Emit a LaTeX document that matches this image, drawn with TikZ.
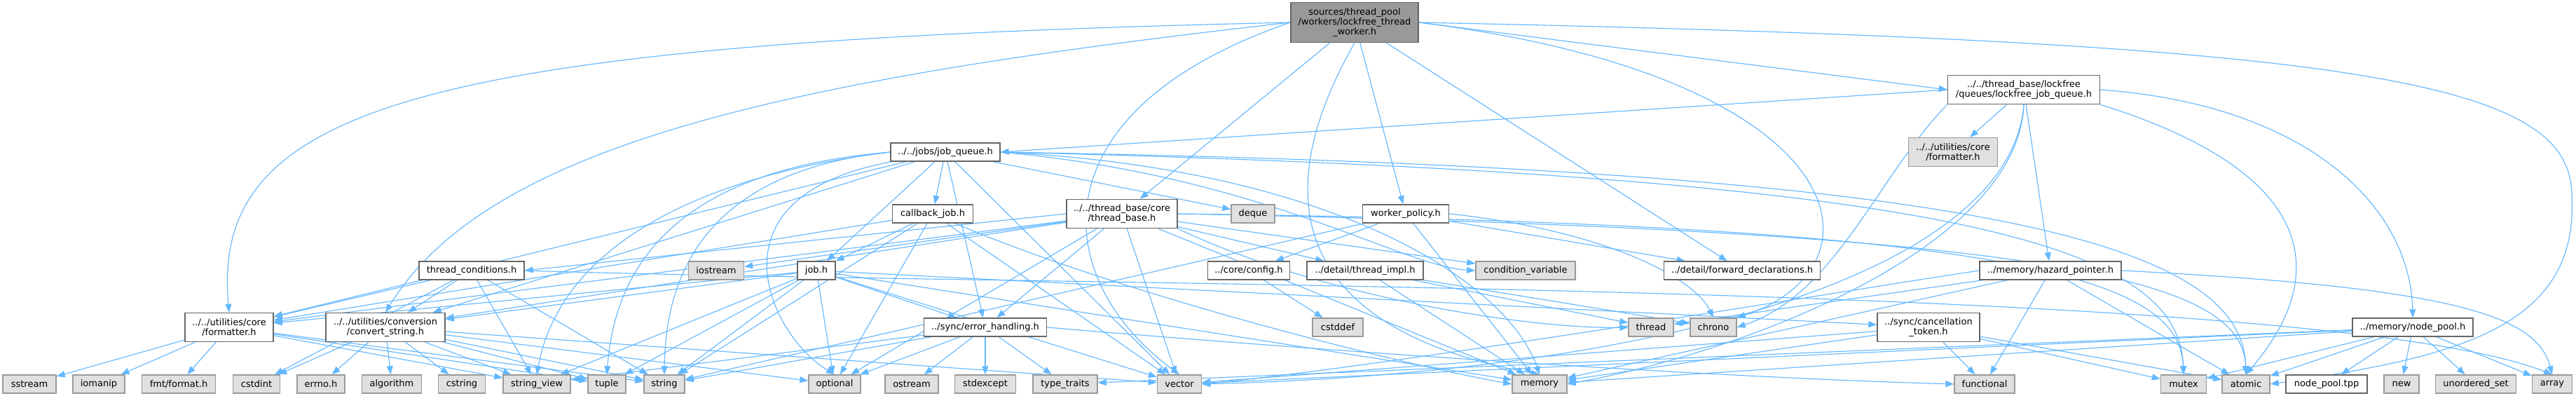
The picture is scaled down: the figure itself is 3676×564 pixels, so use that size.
\documentclass[tikz,border=0pt]{standalone}
\usepackage{fontspec}
\newfontfamily\dxfont{DejaVu Sans}
\usetikzlibrary{arrows.meta,backgrounds}

\definecolor{dxedge}{HTML}{63B8FF}
\definecolor{dxgreyfill}{HTML}{E0E0E0}
\definecolor{dxgreyline}{HTML}{999999}
\definecolor{dxline}{HTML}{666666}

\tikzset{
  hdr/.style={draw=dxline, fill=white, line width=0.4pt, inner sep=0pt,
    align=center, font=\dxfont\fontsize{3.7}{4}\selectfont},
  syshdr/.style={hdr, draw=dxgreyline, fill=dxgreyfill},
  roothdr/.style={hdr, fill=dxgreyline},
  oneline/.style={minimum height=2.6mm},
  twoline/.style={minimum height=4.1mm},
  bw/.style={minimum width=#1mm},
  dep/.style={draw=dxedge, line width=0.32pt,
    -{Triangle[length=1.2mm,width=0.9mm]}}
}

\begin{document}
\begin{tikzpicture}[x=0.1mm,y=-0.1mm]
\useasboundingbox (0,0) rectangle (3676,564);

% top rows
\node[roothdr, minimum height=5.7mm, bw=18.2] (worker) at (1933,32)
  {sources/thread\_pool\\/workers/lockfree\_thread\\\_worker.h};
\node[hdr, twoline, bw=21.7] (lfqueue) at (2888,128)
  {../../thread\_base/lockfree\\/queues/lockfree\_job\_queue.h};
\node[hdr, oneline, bw=15.6] (jobqueue) at (1349,217) {../../jobs/job\_queue.h};
\node[syshdr, twoline, bw=12.7] (fmtgrey) at (2787,217) {../../utilities/core\\/formatter.h};
\node[hdr, oneline, bw=11.5] (cbjob) at (1331,305) {callback\_job.h};
\node[hdr, twoline, bw=15.8] (tbase) at (1601,305) {../../thread\_base/core\\/thread\_base.h};
\node[syshdr, oneline, bw=6.2] (deque) at (1788,305) {deque};
\node[hdr, oneline, bw=12.3] (wpolicy) at (2006,305) {worker\_policy.h};

% middle row
\node[hdr, oneline, bw=15.0] (tcond) at (673,386) {thread\_conditions.h};
\node[syshdr, oneline, bw=7.9] (iostream) at (1022,386) {iostream};
\node[hdr, oneline, bw=5.4] (job) at (1165,386) {job.h};
\node[hdr, oneline, bw=11.7] (config) at (1782,386) {../core/config.h};
\node[hdr, oneline, bw=16.6] (timpl) at (1948,386) {../detail/thread\_impl.h};
\node[syshdr, oneline, bw=14.2] (condvar) at (2177,386) {condition\_variable};
\node[hdr, oneline, bw=22.3] (fwddecl) at (2486,386) {../detail/forward\_declarations.h};
\node[hdr, oneline, bw=20.2] (hazard) at (2926,386) {../memory/hazard\_pointer.h};

% lower row
\node[hdr, twoline, bw=12.6] (formatter) at (327,467) {../../utilities/core\\/formatter.h};
\node[hdr, twoline, bw=17.0] (convstr) at (550,467) {../../utilities/conversion\\/convert\_string.h};
\node[hdr, oneline, bw=17.5] (errhandle) at (1406,467) {../sync/error\_handling.h};
\node[syshdr, oneline, bw=7.2] (cstddef) at (1909,467) {cstddef};
\node[syshdr, oneline, bw=6.4] (thread) at (2356,467) {thread};
\node[syshdr, oneline, bw=6.6] (chrono) at (2445,467) {chrono};
\node[hdr, twoline, bw=14.6] (canceltok) at (2752,467) {../sync/cancellation\\\_token.h};
\node[hdr, oneline, bw=17.2] (nodepool) at (3443,467) {../memory/node\_pool.h};

% bottom row
\node[syshdr, oneline, bw=7.6] (sstream) at (42,548) {sstream};
\node[syshdr, oneline, bw=7.4] (iomanip) at (141,548) {iomanip};
\node[syshdr, oneline, bw=10.5] (fmtformat) at (255,548) {fmt/format.h};
\node[syshdr, oneline, bw=6.7] (cstdint) at (366,548) {cstdint};
\node[syshdr, oneline, bw=6.8] (errno) at (458,548) {errno.h};
\node[syshdr, oneline, bw=8.5] (algorithm) at (559,548) {algorithm};
\node[syshdr, oneline, bw=6.7] (cstring) at (659,548) {cstring};
\node[syshdr, oneline, bw=9.6] (strview) at (766,548) {string\_view};
\node[syshdr, oneline, bw=5.4] (tuple) at (866,548) {tuple};
\node[syshdr, oneline, bw=5.8] (string) at (948,548) {string};
\node[syshdr, oneline, bw=7.4] (optional) at (1191,548) {optional};
\node[syshdr, oneline, bw=7.6] (ostream) at (1301,548) {ostream};
\node[syshdr, oneline, bw=8.7] (stdexcept) at (1406,548) {stdexcept};
\node[syshdr, oneline, bw=9.2] (typetraits) at (1520,548) {type\_traits};
\node[syshdr, oneline, bw=6.3] (vector) at (1683,548) {vector};
\node[syshdr, oneline, bw=7.8] (memory) at (2197,548) {memory};
\node[syshdr, oneline, bw=8.6] (functional) at (2832,548) {functional};
\node[syshdr, oneline, bw=6.5] (mutex) at (3116,548) {mutex};
\node[syshdr, oneline, bw=6.8] (atomic) at (3205,548) {atomic};
\node[hdr, oneline, bw=11.6] (nodetpp) at (3320,548) {node\_pool.tpp};
\node[syshdr, oneline, bw=5.0] (new) at (3427,548) {new};
\node[syshdr, oneline, bw=11.5] (unordset) at (3533,548) {unordered\_set};
\node[syshdr, oneline, bw=5.7] (array) at (3642,548) {array};

\begin{pgfonlayer}{background}
\fill[white] (0,0) rectangle (3676,564);

% lockfree_thread_worker.h
\draw[dep] (worker.west) .. controls (600,60) and (300,150) .. (formatter.north);
\draw[dep] (worker.west) .. controls (1150,110) and (700,200) .. (convstr.north);
\draw[dep] (worker) -- (tbase);
\draw[dep] (worker) -- (wpolicy);
\draw[dep] (worker) -- (fwddecl);
\draw[dep] (worker.east) -- (lfqueue.west);
\draw[dep] (worker.west) .. controls (1470,160) and (1500,400) .. (vector.north);
\draw[dep] (worker.south) .. controls (1780,330) and (1900,480) .. (memory.north);
\draw[dep] (worker.east) .. controls (3400,60) and (3670,120) .. (3670,280)
  .. controls (3680,470) and (3500,510) .. (atomic.east);
\draw[dep] (worker.east) .. controls (2650,110) and (2700,380) .. (chrono.north east);

% lockfree_job_queue.h
\draw[dep] (lfqueue.west) -- (jobqueue.east);
\draw[dep] (lfqueue) -- (fmtgrey);
\draw[dep] (lfqueue.south west) .. controls (2680,250) and (2620,420) .. (chrono.east);
\draw[dep] (lfqueue) -- (hazard);
\draw[dep] (lfqueue.south east) .. controls (3320,250) and (3320,400) .. (atomic.north);
\draw[dep] (lfqueue.east) .. controls (3300,150) and (3440,300) .. (nodepool.north);
\draw[dep] (lfqueue.south) .. controls (2880,350) and (2500,500) .. (memory.east);
\draw[dep] (lfqueue.south) .. controls (2870,380) and (2400,530) .. (vector.east);

% hazard_pointer.h
\draw[dep] (hazard) -- (functional);
\draw[dep] (hazard) -- (atomic);
\draw[dep] (hazard.east) .. controls (3500,410) and (3620,450) .. (array.north);
\draw[dep] (hazard) -- (memory);
\draw[dep] (hazard.west) .. controls (2600,420) and (2000,520) .. (vector.east);
\draw[dep] (hazard) -- (thread);

% node_pool.h
\draw[dep] (nodepool) -- (mutex);
\draw[dep] (nodepool) -- (atomic);
\draw[dep] (nodepool) -- (nodetpp);
\draw[dep] (nodepool) -- (new);
\draw[dep] (nodepool) -- (unordset);
\draw[dep] (nodepool) -- (array);
\draw[dep] (nodepool) -- (memory);
\draw[dep] (nodepool) -- (vector);
\draw[dep] (nodepool) -- (typetraits);

% cancellation_token.h
\draw[dep] (canceltok) -- (functional);
\draw[dep] (canceltok) -- (mutex);
\draw[dep] (canceltok) -- (atomic);
\draw[dep] (canceltok) -- (memory);
\draw[dep] (canceltok) -- (vector);

% worker_policy.h
\draw[dep] (wpolicy) -- (config);
\draw[dep] (wpolicy) -- (fwddecl);
\draw[dep] (wpolicy.east) .. controls (2300,330) and (2420,400) .. (chrono.north);
\draw[dep] (wpolicy) -- (memory);
\draw[dep] (wpolicy) -- (string);

% config.h, thread_impl.h
\draw[dep] (config) -- (cstddef);
\draw[dep] (timpl) -- (memory);
\draw[dep] (timpl) -- (thread);
\draw[dep] (timpl) -- (chrono);

% thread_base.h
\draw[dep] (tbase.west) -- (tcond.east);
\draw[dep] (tbase) -- (formatter);
\draw[dep] (tbase) -- (convstr);
\draw[dep] (tbase) -- (iostream);
\draw[dep] (tbase) -- (errhandle);
\draw[dep] (tbase) -- (optional);
\draw[dep] (tbase) -- (vector);
\draw[dep] (tbase) -- (timpl);
\draw[dep] (tbase) -- (condvar);
\draw[dep] (tbase) -- (memory);
\draw[dep] (tbase.east) .. controls (2900,320) and (3110,400) .. (mutex.north);
\draw[dep] (tbase.east) .. controls (2950,330) and (3200,400) .. (atomic.north);
\draw[dep] (tbase.south east) .. controls (1900,430) and (2200,470) .. (thread.west);

% job_queue.h
\draw[dep] (jobqueue) -- (job);
\draw[dep] (jobqueue) -- (cbjob);
\draw[dep] (jobqueue) -- (errhandle);
\draw[dep] (jobqueue) -- (deque);
\draw[dep] (jobqueue) -- (formatter);
\draw[dep] (jobqueue) -- (convstr);
\draw[dep] (jobqueue.west) .. controls (1000,250) and (800,350) .. (strview.north);
\draw[dep] (jobqueue.west) .. controls (1000,240) and (880,350) .. (tuple.north);
\draw[dep] (jobqueue.west) .. controls (1050,240) and (950,350) .. (string.north);
\draw[dep] (jobqueue) .. controls (1000,280) and (1100,480) .. (optional.north);
\draw[dep] (jobqueue.east) .. controls (1900,240) and (2150,400) .. (memory.north);
\draw[dep] (jobqueue) -- (vector);
\draw[dep] (jobqueue.east) .. controls (2800,250) and (3110,350) .. (mutex.north);
\draw[dep] (jobqueue.east) .. controls (2850,240) and (3200,350) .. (atomic.north);
\draw[dep] (jobqueue.east) .. controls (1800,250) and (2000,380) .. (condvar.west);

% callback_job.h
\draw[dep] (cbjob) -- (job);
\draw[dep] (cbjob) -- (string);
\draw[dep] (cbjob) -- (optional);
\draw[dep] (cbjob) -- (vector);
\draw[dep] (cbjob) .. controls (1600,420) and (2000,520) .. (memory.west);
\draw[dep] (cbjob) -- (formatter);

% job.h
\draw[dep] (job) -- (formatter);
\draw[dep] (job) -- (convstr);
\draw[dep] (job) -- (errhandle);
\draw[dep] (job) -- (string);
\draw[dep] (job) -- (strview);
\draw[dep] (job) -- (tuple);
\draw[dep] (job) -- (optional);
\draw[dep] (job) -- (canceltok);
\draw[dep] (job) -- (memory);
\draw[dep] (job) -- (vector);

% thread_conditions.h
\draw[dep] (tcond) -- (formatter);
\draw[dep] (tcond) -- (convstr);
\draw[dep] (tcond) -- (cstdint);
\draw[dep] (tcond) -- (strview);
\draw[dep] (tcond) -- (string);
\draw[dep] (tcond.east) .. controls (1500,410) and (3300,400) .. (array.north);

% formatter.h
\draw[dep] (formatter) -- (sstream);
\draw[dep] (formatter) -- (iomanip);
\draw[dep] (formatter) -- (fmtformat);
\draw[dep] (formatter) -- (strview);
\draw[dep] (formatter) -- (tuple);
\draw[dep] (formatter) -- (string);

% convert_string.h
\draw[dep] (convstr) -- (cstdint);
\draw[dep] (convstr) -- (errno);
\draw[dep] (convstr) -- (algorithm);
\draw[dep] (convstr) -- (cstring);
\draw[dep] (convstr) -- (strview);
\draw[dep] (convstr) -- (tuple);
\draw[dep] (convstr) -- (string);
\draw[dep] (convstr) -- (optional);
\draw[dep] (convstr) -- (vector);

% error_handling.h
\draw[dep] (errhandle) -- (optional);
\draw[dep] (errhandle) -- (ostream);
\draw[dep] (errhandle) -- (stdexcept);
\draw[dep] (errhandle) -- (typetraits);
\draw[dep] (errhandle) -- (string);
\draw[dep] (errhandle) -- (strview);
\draw[dep] (errhandle.east) .. controls (2000,510) and (2500,540) .. (functional.west);
\end{pgfonlayer}

\end{tikzpicture}
\end{document}
